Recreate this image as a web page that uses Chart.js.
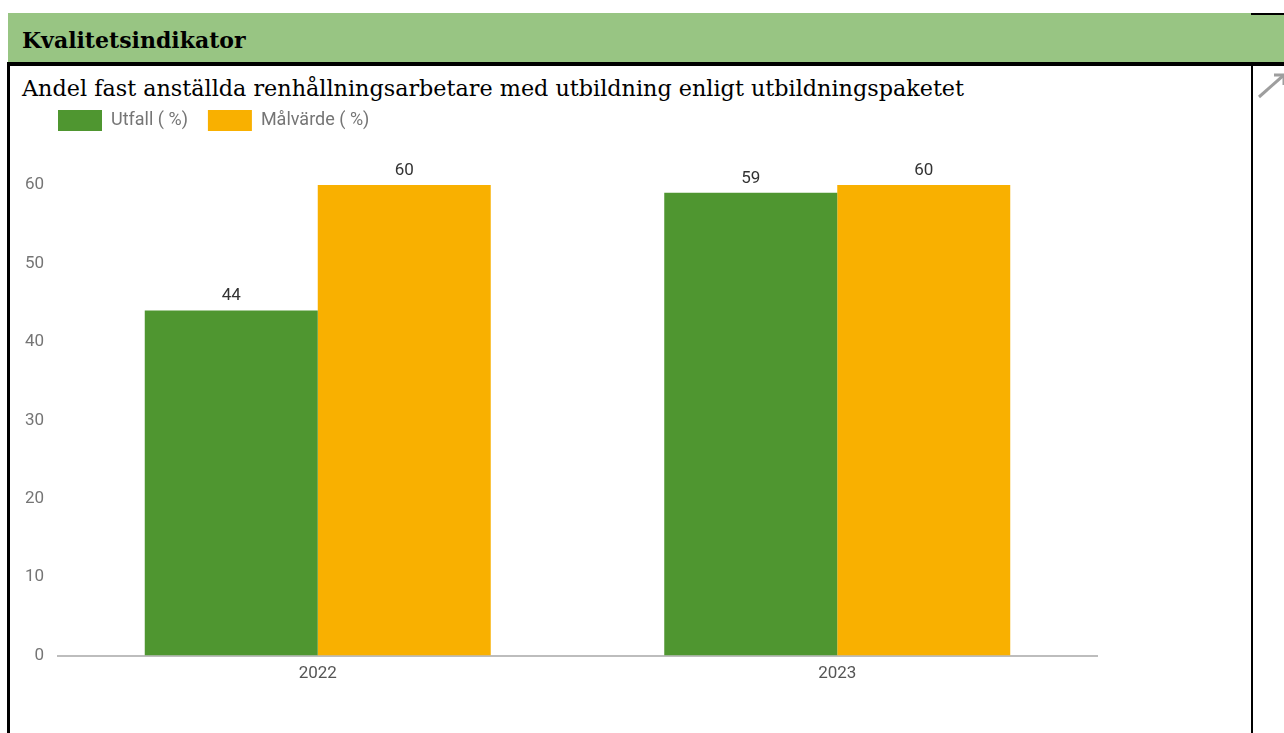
<!DOCTYPE html>
<html>
<head>
<meta charset="utf-8">
<script src="https://cdn.jsdelivr.net/npm/chart.js@4"></script>
<style>
  body { margin: 0; width: 1284px; height: 733px; background: #fff; position: relative; overflow: hidden; }
  #header { position: absolute; left: 8px; top: 13px; width: 1276px; height: 49px; background: #98c583; }
  #header span { position: absolute; left: 14px; top: 14px; font: bold 22px "DejaVu Serif", serif; color: #000; }
  #topline { position: absolute; left: 1251px; top: 13px; width: 33px; height: 2px; background: #000; }
  #hline { position: absolute; left: 7px; top: 62px; width: 1277px; height: 4px; background: #000; }
  #lline { position: absolute; left: 7px; top: 62px; width: 3px; height: 671px; background: #000; }
  #rline { position: absolute; left: 1251px; top: 62px; width: 2px; height: 671px; background: #000; }
  #title { position: absolute; left: 22px; top: 75px; font: 22.3px "DejaVu Serif", serif; color: #000; white-space: nowrap; }
  #icon { position: absolute; left: 1256px; top: 72px; }
  #wrap { position: absolute; left: 9px; top: 90px; width: 1242px; height: 643px; }
</style>
</head>
<body>
<div id="header"><span>Kvalitetsindikator</span></div>
<div id="topline"></div>
<div id="hline"></div>
<div id="lline"></div>
<div id="rline"></div>
<div id="title">Andel fast anställda renhållningsarbetare med utbildning enligt utbildningspaketet</div>
<svg id="icon" width="28" height="30"><line x1="3" y1="25" x2="28" y2="3" stroke="#9e9e9e" stroke-width="3"/><polyline points="18,3 28,3 28,13" fill="none" stroke="#9e9e9e" stroke-width="3"/></svg>
<div id="wrap"><canvas id="myChart"></canvas></div>
<script>
const years = ['2022', '2023'];
const utfall = [44, 59];
const malvarde = [60, 60];
const yTicks = [0, 10, 20, 30, 40, 50, 60];

const legendSpace = {
	id: 'legendSpace',
	beforeInit(chart) {
		const fit = chart.legend.fit;
		chart.legend.fit = function () {
			fit.bind(chart.legend)();
			this.height = 95;
		};
	},
	afterLayout(chart) {
		chart.legend.left = chart.chartArea.left - chart.legend.options.labels.padding;
	}
};

const barLabels = {
	id: 'barLabels',
	afterDatasetsDraw(chart) {
		const ctx = chart.ctx;
		ctx.save();
		ctx.font = '17px Roboto';
		ctx.fillStyle = '#333';
		ctx.textAlign = 'center';
		ctx.textBaseline = 'alphabetic';
		chart.data.datasets.forEach((ds, i) => {
			chart.getDatasetMeta(i).data.forEach((bar, j) => {
				ctx.fillText(ds.data[j], bar.x, bar.y - 10);
			});
		});
		ctx.restore();
	}
};

var ctx = document.getElementById('myChart');
var myChart = new Chart(ctx, {
	type: 'bar',
	data: {
		labels: years,
		datasets: [{
			label: 'Utfall ( %)',
			data: utfall,
			backgroundColor: '#4f9630'
		}, {
			label: 'Målvärde ( %)',
			data: malvarde,
			backgroundColor: '#f9b000'
		}]
	},
	options: {
		responsive: true,
		maintainAspectRatio: false,
		animation: false,
		layout: { padding: { left: 0, right: 154, top: 0, bottom: 41 } },
		datasets: { bar: { categoryPercentage: 0.666, barPercentage: 1 } },
		plugins: {
			tooltip: { enabled: false },
			legend: {
				align: 'start',
				labels: {
					boxWidth: 44,
					boxHeight: 21,
					padding: 20,
					color: '#757575',
					font: { family: 'Roboto', size: 18 }
				}
			}
		},
		scales: {
			x: {
				grid: { display: false, drawTicks: false },
				border: { display: true, color: '#bdbdbd', width: 2 },
				ticks: { color: '#555', padding: 8, font: { family: 'Roboto', size: 17 } }
			},
			y: {
				min: 0,
				max: 60,
				afterBuildTicks: axis => { axis.ticks = yTicks.map(v => ({ value: v })); },
				afterFit: axis => { axis.width = 49; },
				grid: { display: false },
				border: { display: false },
				ticks: { color: '#757575', padding: 6, font: { family: 'Roboto', size: 17 } }
			}
		}
	},
	plugins: [legendSpace, barLabels]
});
</script>
</body>
</html>
